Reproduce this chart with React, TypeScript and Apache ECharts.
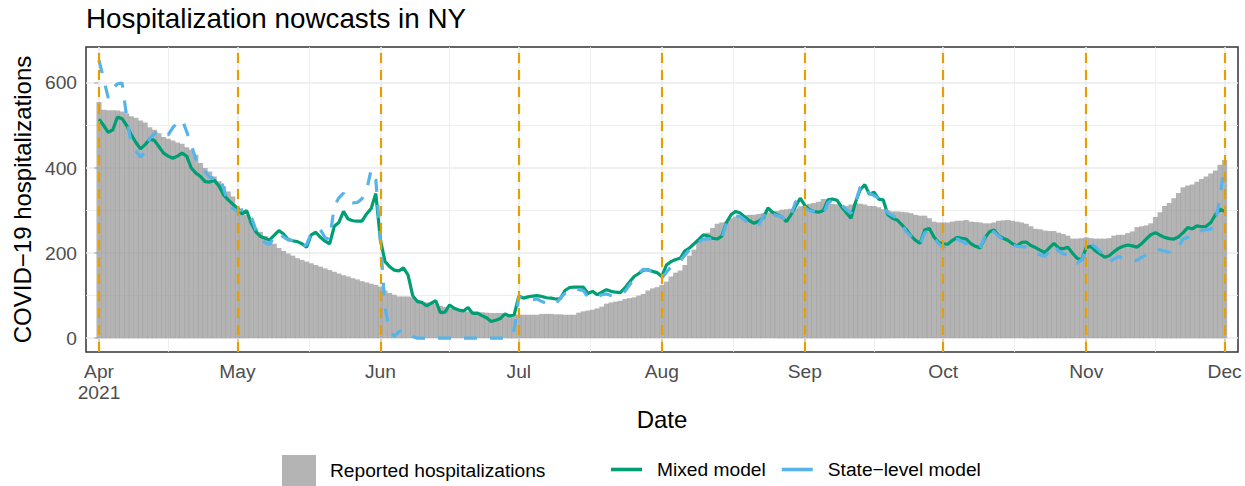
import { useEffect, useRef } from 'react';
import * as echarts from 'echarts';

const startDate = '2021-04-01';
const monthStarts = ['2021-04-01', '2021-05-01', '2021-06-01', '2021-07-01', '2021-08-01', '2021-09-01', '2021-10-01', '2021-11-01', '2021-12-01'];
const monthLabels = ['Apr\n2021', 'May', 'Jun', 'Jul', 'Aug', 'Sep', 'Oct', 'Nov', 'Dec'];
const yBreaks = [0, 200, 400, 600];
const yMinorBreaks = [100, 300, 500];

const reported = [
  555, 537, 536, 536, 535, 533, 528, 522, 518, 512, 507, 496, 490, 482, 473, 469, 465, 460, 457, 449,
  443, 431, 412, 400, 392, 380, 369, 357, 345, 333, 310, 302, 290, 275, 258, 250, 240, 228, 222, 212,
  205, 199, 194, 188, 184, 180, 176, 172, 168, 164, 160, 156, 152, 148, 145, 141, 138, 134, 131, 128,
  125, 121, 112, 106, 102, 98, 98, 98, 96, 90, 86, 84, 82, 81, 76, 73, 70, 69, 66, 64,
  63, 63, 62, 61, 60, 59, 59, 59, 58, 57, 56, 55, 55, 55, 55, 55, 57, 57, 57, 56,
  56, 55, 55, 55, 60, 63, 65, 67, 70, 74, 81, 84, 86, 88, 92, 94, 96, 100, 104, 112,
  117, 120, 125, 133, 145, 154, 159, 172, 194, 208, 227, 235, 248, 259, 269, 272, 274, 282, 286, 288,
  289, 290, 290, 292, 294, 296, 296, 299, 302, 303, 304, 305, 310, 311, 316, 318, 321, 327, 319, 316,
  315, 311, 311, 314, 318, 316, 314, 311, 311, 308, 303, 300, 298, 298, 297, 296, 294, 290, 288, 288,
  282, 274, 272, 272, 272, 274, 276, 276, 278, 274, 273, 272, 270, 270, 272, 276, 277, 278, 276, 274,
  272, 269, 263, 257, 256, 253, 252, 252, 248, 245, 241, 234, 234, 235, 237, 235, 234, 234, 234, 235,
  241, 243, 243, 247, 251, 261, 263, 265, 270, 285, 296, 311, 318, 329, 341, 355, 359, 361, 368, 374,
  380, 387, 394, 408, 419,
];

const mixedModel = [
  515, 500, 484, 490, 520, 516, 500, 478, 460, 445, 455, 468, 465, 450, 435, 428, 423, 428, 435, 428,
  400, 388, 380, 368, 367, 371, 358, 337, 325, 315, 306, 292, 300, 270, 250, 239, 235, 231, 242, 253,
  245, 232, 229, 227, 222, 214, 243, 249, 237, 228, 222, 263, 272, 298, 280, 276, 275, 275, 292, 305,
  340, 231, 180, 168, 160, 158, 165, 148, 100, 86, 84, 76, 82, 88, 60, 61, 78, 70, 66, 64,
  72, 58, 59, 53, 48, 39, 42, 46, 57, 52, 55, 99, 94, 97, 99, 100, 98, 95, 94, 92,
  93, 112, 119, 120, 120, 120, 105, 110, 102, 108, 114, 110, 108, 107, 118, 132, 145, 152, 160, 161,
  157, 154, 145, 172, 180, 185, 188, 205, 212, 222, 232, 243, 240, 235, 233, 240, 272, 290, 298, 294,
  285, 276, 270, 275, 283, 306, 296, 290, 285, 274, 290, 310, 329, 312, 302, 298, 296, 300, 325, 327,
  324, 308, 295, 282, 320, 349, 361, 338, 343, 327, 325, 290, 282, 278, 267, 255, 241, 230, 223, 255,
  258, 238, 225, 222, 221, 230, 237, 235, 233, 222, 216, 212, 235, 250, 254, 241, 235, 230, 222, 217,
  225, 226, 218, 213, 207, 201, 212, 223, 212, 210, 214, 200, 188, 184, 213, 216, 205, 198, 190, 194,
  203, 211, 216, 219, 217, 214, 222, 233, 243, 248, 242, 237, 234, 233, 238, 248, 260, 257, 264, 262,
  263, 272, 290, 303, 298,
];

const stateLevelModel = [
  653, 610, 565, 588, 598, 600, 520, 455, 440, 426, 438, 470, 480, 490, 482, 478, 495, 507, 514, 486,
  455, 420, 405, 392, 378, 375, 380, 353, 314, 305, 298, 302, 300, 285, 255, 235, 225, 220, 240, 247,
  238, 231, 229, 225, 214, 220, 247, 252, 255, 236, 232, 310, 330, 341, 320, 318, 319, 328, 348, 396,
  373, 231, 70, 20, 4, 15, 19, 12, 4, 0, 0, 0, 0, 0, 0, 0, 0, 0, 0, 0,
  0, 0, 0, 0, 0, 0, 0, 0, 0, 2, 20, 98, 90, 86, 90, 92, 86, 82, 78, 80,
  94, 105, 114, 115, 114, 112, 96, 95, 98, 102, 104, 100, 98, 104, 110, 125, 141, 152, 162, 160,
  157, 150, 141, 155, 168, 175, 182, 195, 208, 216, 226, 233, 234, 233, 234, 235, 270, 284, 287, 286,
  278, 265, 263, 267, 285, 303, 292, 288, 286, 274, 290, 320, 329, 306, 300, 298, 294, 290, 318, 325,
  318, 314, 302, 294, 320, 355, 362, 341, 335, 329, 312, 294, 288, 282, 268, 250, 240, 228, 221, 248,
  252, 236, 222, 214, 220, 228, 233, 228, 222, 218, 214, 212, 238, 259, 250, 240, 231, 225, 219, 216,
  215, 214, 207, 200, 196, 192, 205, 219, 205, 198, 196, 186, 176, 184, 208, 222, 214, 204, 192, 180,
  186, 192, 188, 184, 183, 183, 190, 196, 202, 206, 208, 205, 202, 201, 215, 233, 237, 238, 245, 253,
  255, 256, 270, 333, 410,
];

const FONT = '"Liberation Sans", Arial, Helvetica, sans-serif';

export default function App() {
  const ref = useRef<HTMLDivElement>(null);

  useEffect(() => {
    const chart = echarts.init(ref.current!, null, { renderer: 'svg' });
    const t0 = Date.parse(startDate);
    const dayOf = (s: string) => Math.round((Date.parse(s) - t0) / 86400000);
    const monthDays = monthStarts.map(dayOf);
    const midDays = monthDays.slice(1).map((d, i) => (d + monthDays[i]) / 2);
    const toXY = (arr: number[]) => arr.map((v, i) => [i, v]);

    const option: any = {
      animation: false,
      title: {
        text: 'Hospitalization nowcasts in NY',
        left: 86,
        top: 4,
        padding: 0,
        textStyle: { fontFamily: FONT, fontSize: 27.8, fontWeight: 'normal', color: '#000' },
      },
      grid: {
        left: 86,
        top: 47,
        width: 1152,
        height: 305,
        show: true,
        borderColor: '#333333',
        borderWidth: 1.5,
        backgroundColor: 'transparent',
        outerBoundsMode: 'none',
      },
      legend: [
        {
          data: ['Reported hospitalizations'],
          left: 282,
          top: 455,
          padding: 0,
          itemWidth: 34,
          itemHeight: 31,
          icon: 'rect',
          selectedMode: false,
          textStyle: { fontFamily: FONT, fontSize: 19.2, color: '#000', padding: [0, 0, 0, 9] },
        },
        {
          data: [
            { name: 'Mixed model', icon: 'rect' },
            { name: 'State−level model', icon: 'rect' },
          ],
          left: 611,
          top: 460,
          padding: 0,
          itemWidth: 31,
          itemHeight: 3.6,
          itemGap: 16,
          selectedMode: false,
          textStyle: { fontFamily: FONT, fontSize: 19.2, color: '#000', padding: [0, 0, 0, 10] },
        },
      ],
      xAxis: {
        type: 'value',
        min: -2.82,
        max: 246.9,
        name: 'Date',
        nameLocation: 'middle',
        nameGap: 52,
        nameTextStyle: { fontFamily: FONT, fontSize: 24, color: '#000' },
        axisLine: { show: false },
        splitLine: { show: false },
        axisTick: {
          show: true,
          customValues: monthDays,
          length: 5,
          lineStyle: { color: '#333333', width: 1.5 },
        },
        axisLabel: {
          customValues: monthDays,
          formatter: (v: number) => monthLabels[monthDays.indexOf(Math.round(v))] ?? '',
          fontFamily: FONT,
          fontSize: 19.2,
          lineHeight: 21,
          color: '#4D4D4D',
          margin: 9,
        },
      },
      yAxis: {
        type: 'value',
        min: -32.6,
        max: 684.6,
        name: 'COVID−19 hospitalizations',
        nameLocation: 'middle',
        nameGap: 44,
        nameTextStyle: { fontFamily: FONT, fontSize: 24, color: '#000' },
        axisLine: { show: false },
        splitLine: { show: false },
        axisTick: {
          show: true,
          customValues: yBreaks,
          length: 5,
          lineStyle: { color: '#333333', width: 1.5 },
        },
        axisLabel: {
          customValues: yBreaks,
          fontFamily: FONT,
          fontSize: 19.2,
          color: '#4D4D4D',
          margin: 9,
        },
      },
      series: [
        {
          type: 'line',
          name: 'grid',
          data: [],
          silent: true,
          z: 1,
          markLine: {
            silent: true,
            z: 1,
            symbol: ['none', 'none'],
            label: { show: false },
            emphasis: { disabled: true },
            lineStyle: { color: '#EBEBEB', type: 'solid', width: 1.6 },
            data: [
              ...yBreaks.map((v) => ({ yAxis: v, lineStyle: { color: '#EBEBEB', type: 'solid', width: 1.6 } })),
              ...yMinorBreaks.map((v) => ({ yAxis: v, lineStyle: { color: '#EBEBEB', type: 'solid', width: 0.8 } })),
              ...monthDays.map((v) => ({ xAxis: v, lineStyle: { color: '#EBEBEB', type: 'solid', width: 1.6 } })),
              ...midDays.map((v) => ({ xAxis: v, lineStyle: { color: '#EBEBEB', type: 'solid', width: 0.8 } })),
            ],
          },
        },
        {
          type: 'bar',
          name: 'Reported hospitalizations',
          data: toXY(reported),
          barWidth: 5.1,
          silent: true,
          z: 2,
          itemStyle: { color: 'rgba(148,148,148,0.7)' },
        },
        {
          type: 'line',
          name: 'Mixed model',
          data: toXY(mixedModel),
          symbol: 'none',
          silent: true,
          z: 3,
          itemStyle: { color: '#009E73' },
          lineStyle: { color: '#009E73', width: 3.2 },
        },
        {
          type: 'line',
          name: 'State−level model',
          data: toXY(stateLevelModel),
          symbol: 'none',
          silent: true,
          z: 4,
          itemStyle: { color: '#56B4E9' },
          lineStyle: { color: '#56B4E9', width: 3.2, type: [13, 13] },
        },
        {
          type: 'line',
          name: 'months',
          data: [],
          silent: true,
          z: 5,
          markLine: {
            silent: true,
            z: 5,
            symbol: ['none', 'none'],
            label: { show: false },
            emphasis: { disabled: true },
            lineStyle: { color: '#E69F00', type: [10, 7], width: 2.2 },
            data: monthDays.map((v) => ({ xAxis: v })),
          },
        },
      ],
    };

    chart.setOption(option);
    return () => chart.dispose();
  }, []);

  return <div ref={ref} style={{ position: 'absolute', left: 0, top: 0, width: 1245, height: 486 }} />;
}
